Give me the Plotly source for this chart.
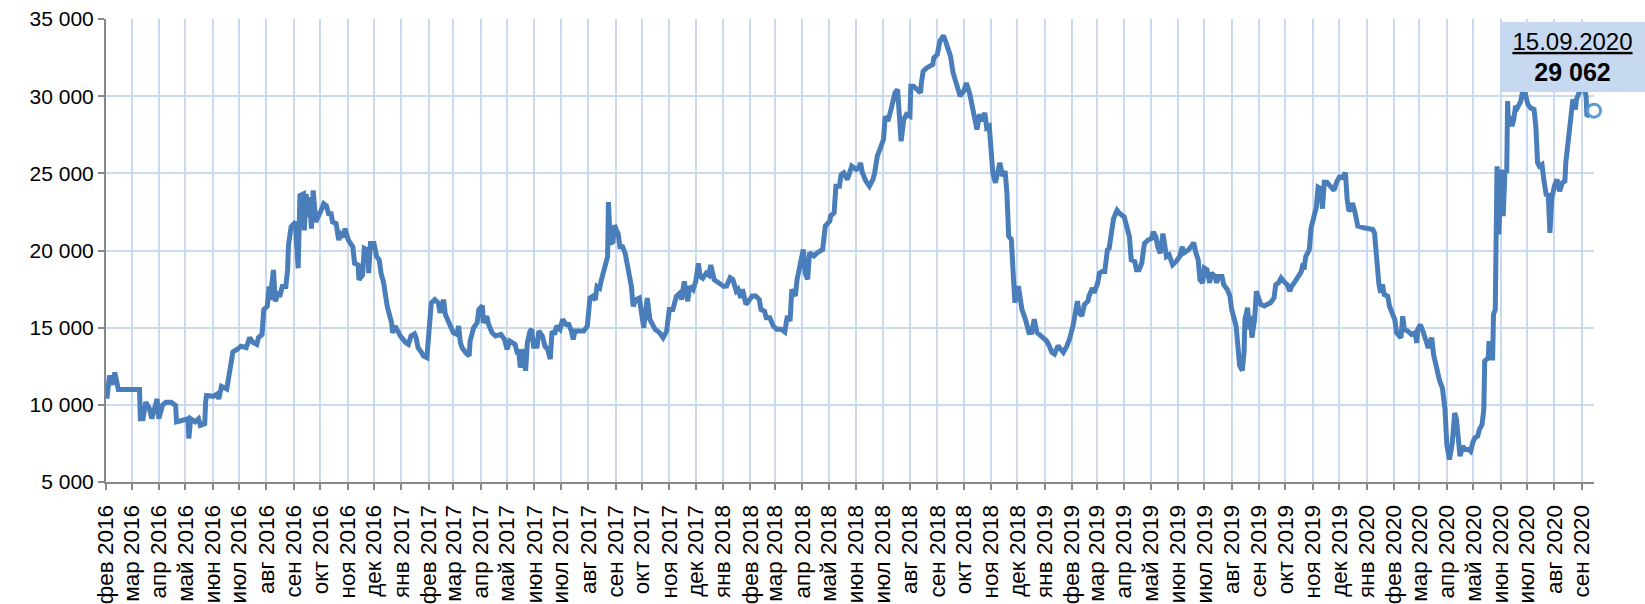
import plotly.graph_objects as go

# Daily price series (trading dates and values)
dates = [
    "2016-02-02", "2016-02-05", "2016-02-08", "2016-02-11", "2016-02-15", "2016-03-10", "2016-03-11", "2016-03-14",
    "2016-03-17", "2016-03-21", "2016-03-24", "2016-03-30", "2016-04-01", "2016-04-05", "2016-04-09", "2016-04-15",
    "2016-04-20", "2016-04-21", "2016-04-28", "2016-05-04", "2016-05-05", "2016-05-07", "2016-05-12", "2016-05-16",
    "2016-05-18", "2016-05-23", "2016-05-24", "2016-05-25", "2016-06-02", "2016-06-06", "2016-06-08", "2016-06-11",
    "2016-06-17", "2016-06-19", "2016-06-20", "2016-06-24", "2016-06-29", "2016-07-03", "2016-07-09", "2016-07-13",
    "2016-07-17", "2016-07-21", "2016-07-23", "2016-07-27", "2016-07-29", "2016-08-02", "2016-08-04", "2016-08-05",
    "2016-08-09", "2016-08-11", "2016-08-15", "2016-08-16", "2016-08-19", "2016-08-23", "2016-08-25", "2016-08-26",
    "2016-08-29", "2016-09-03", "2016-09-04", "2016-09-06", "2016-09-08", "2016-09-12", "2016-09-13", "2016-09-15",
    "2016-09-17", "2016-09-19", "2016-09-21", "2016-09-23", "2016-09-26", "2016-09-28", "2016-10-02", "2016-10-05",
    "2016-10-08", "2016-10-11", "2016-10-13", "2016-10-15", "2016-10-19", "2016-10-22", "2016-10-24", "2016-10-28",
    "2016-10-29", "2016-11-02", "2016-11-07", "2016-11-09", "2016-11-13", "2016-11-14", "2016-11-18", "2016-11-20",
    "2016-11-24", "2016-11-25", "2016-11-27", "2016-12-01", "2016-12-04", "2016-12-07", "2016-12-09", "2016-12-12",
    "2016-12-16", "2016-12-21", "2016-12-22", "2016-12-25", "2016-12-31",
    "2017-01-06", "2017-01-09", "2017-01-12", "2017-01-16", "2017-01-18", "2017-01-20", "2017-01-24", "2017-01-26",
    "2017-01-30", "2017-02-01", "2017-02-04", "2017-02-08", "2017-02-12", "2017-02-14", "2017-02-18", "2017-02-20",
    "2017-02-24", "2017-03-01", "2017-03-05", "2017-03-07", "2017-03-09", "2017-03-11", "2017-03-15", "2017-03-19",
    "2017-03-20", "2017-03-24", "2017-03-28", "2017-03-30", "2017-04-03", "2017-04-04", "2017-04-08", "2017-04-10",
    "2017-04-14", "2017-04-18", "2017-04-24", "2017-04-28", "2017-05-01", "2017-05-04", "2017-05-07", "2017-05-10",
    "2017-05-13", "2017-05-14", "2017-05-16", "2017-05-20", "2017-05-22", "2017-05-24", "2017-05-27", "2017-05-29",
    "2017-05-31", "2017-06-04", "2017-06-06", "2017-06-10", "2017-06-13", "2017-06-16", "2017-06-19", "2017-06-21",
    "2017-06-24", "2017-06-26", "2017-06-30", "2017-07-03", "2017-07-07", "2017-07-10", "2017-07-13", "2017-07-15",
    "2017-07-17", "2017-07-21", "2017-07-27", "2017-07-31", "2017-08-03", "2017-08-06", "2017-08-09", "2017-08-11",
    "2017-08-14", "2017-08-16", "2017-08-20", "2017-08-23", "2017-08-24", "2017-08-26", "2017-08-29", "2017-08-31",
    "2017-09-02", "2017-09-04", "2017-09-06", "2017-09-09", "2017-09-12", "2017-09-15", "2017-09-19", "2017-09-21",
    "2017-09-24", "2017-09-28", "2017-10-03", "2017-10-07", "2017-10-10", "2017-10-16", "2017-10-21", "2017-10-25",
    "2017-10-29", "2017-11-01", "2017-11-05", "2017-11-09", "2017-11-13", "2017-11-15", "2017-11-18", "2017-11-22",
    "2017-11-24", "2017-11-28", "2017-12-01", "2017-12-04", "2017-12-06", "2017-12-09", "2017-12-13", "2017-12-16",
    "2017-12-18", "2017-12-22", "2017-12-27",
    "2018-01-02", "2018-01-05", "2018-01-09", "2018-01-12", "2018-01-16", "2018-01-18", "2018-01-21", "2018-01-23",
    "2018-01-27", "2018-01-30", "2018-02-03", "2018-02-07", "2018-02-11", "2018-02-13", "2018-02-17", "2018-02-19",
    "2018-02-23", "2018-02-27", "2018-03-03", "2018-03-08", "2018-03-12", "2018-03-15", "2018-03-18", "2018-03-20",
    "2018-03-24", "2018-03-26", "2018-03-30", "2018-04-02", "2018-04-04", "2018-04-07", "2018-04-09", "2018-04-14",
    "2018-04-18", "2018-04-24", "2018-04-27", "2018-05-02", "2018-05-03", "2018-05-07", "2018-05-09", "2018-05-13",
    "2018-05-15", "2018-05-18", "2018-05-22", "2018-05-24", "2018-05-27", "2018-06-01", "2018-06-04", "2018-06-06",
    "2018-06-08", "2018-06-12", "2018-06-16", "2018-06-20", "2018-06-22", "2018-06-25", "2018-06-29", "2018-07-02",
    "2018-07-04", "2018-07-07", "2018-07-11", "2018-07-15", "2018-07-18", "2018-07-20", "2018-07-22", "2018-07-25",
    "2018-07-28", "2018-08-01", "2018-08-02", "2018-08-05", "2018-08-09", "2018-08-13", "2018-08-14", "2018-08-16",
    "2018-08-20", "2018-08-24", "2018-08-27", "2018-08-28", "2018-09-01", "2018-09-04", "2018-09-06", "2018-09-08",
    "2018-09-11", "2018-09-16", "2018-09-19", "2018-09-24", "2018-09-27", "2018-10-01", "2018-10-04", "2018-10-08",
    "2018-10-10", "2018-10-13", "2018-10-16", "2018-10-19", "2018-10-22", "2018-10-25", "2018-10-27", "2018-10-30",
    "2018-11-01", "2018-11-03", "2018-11-06", "2018-11-08", "2018-11-11", "2018-11-14", "2018-11-17", "2018-11-19",
    "2018-11-21", "2018-11-24", "2018-11-26", "2018-11-28", "2018-12-02", "2018-12-06", "2018-12-10", "2018-12-14",
    "2018-12-17", "2018-12-20", "2018-12-23", "2018-12-28",
    "2019-01-03", "2019-01-06", "2019-01-09", "2019-01-12", "2019-01-16", "2019-01-19", "2019-01-22", "2019-01-26",
    "2019-01-29", "2019-02-02", "2019-02-05", "2019-02-07", "2019-02-09", "2019-02-12", "2019-02-15", "2019-02-19",
    "2019-02-20", "2019-02-24", "2019-02-26", "2019-03-02", "2019-03-04", "2019-03-07", "2019-03-10", "2019-03-13",
    "2019-03-15", "2019-03-17", "2019-03-20", "2019-03-24", "2019-03-27", "2019-04-01", "2019-04-04", "2019-04-07",
    "2019-04-09", "2019-04-13", "2019-04-15", "2019-04-18", "2019-04-21", "2019-04-24", "2019-04-28", "2019-05-02",
    "2019-05-04", "2019-05-07", "2019-05-09", "2019-05-12", "2019-05-15", "2019-05-17", "2019-05-19", "2019-05-22",
    "2019-05-24", "2019-05-26", "2019-05-30", "2019-06-03", "2019-06-06", "2019-06-07", "2019-06-10", "2019-06-13",
    "2019-06-16", "2019-06-19", "2019-06-21", "2019-06-24", "2019-06-26", "2019-06-29", "2019-07-01", "2019-07-04",
    "2019-07-07", "2019-07-09", "2019-07-13", "2019-07-15", "2019-07-17", "2019-07-21", "2019-07-23", "2019-07-27",
    "2019-07-30", "2019-08-01", "2019-08-04", "2019-08-06", "2019-08-08", "2019-08-10", "2019-08-13", "2019-08-15",
    "2019-08-16", "2019-08-19", "2019-08-21", "2019-08-22", "2019-08-24", "2019-08-27", "2019-08-29", "2019-09-03",
    "2019-09-07", "2019-09-10", "2019-09-14", "2019-09-18", "2019-09-20", "2019-09-23", "2019-09-26", "2019-09-29",
    "2019-10-03", "2019-10-06", "2019-10-08", "2019-10-12", "2019-10-15", "2019-10-19", "2019-10-21", "2019-10-22",
    "2019-10-24", "2019-10-28", "2019-10-30", "2019-11-03", "2019-11-05", "2019-11-07", "2019-11-10", "2019-11-12",
    "2019-11-14", "2019-11-17", "2019-11-21", "2019-11-25", "2019-11-28", "2019-12-02", "2019-12-04", "2019-12-06",
    "2019-12-08", "2019-12-10", "2019-12-12", "2019-12-15", "2019-12-16", "2019-12-19", "2019-12-22", "2019-12-29",
    "2020-01-08", "2020-01-10", "2020-01-12", "2020-01-14", "2020-01-15", "2020-01-17", "2020-01-19", "2020-01-21",
    "2020-01-25", "2020-01-27", "2020-01-30", "2020-02-02", "2020-02-04", "2020-02-07", "2020-02-09", "2020-02-11",
    "2020-02-13", "2020-02-17", "2020-02-21", "2020-02-25", "2020-02-27", "2020-02-28", "2020-03-02", "2020-03-05",
    "2020-03-08", "2020-03-11", "2020-03-13", "2020-03-15", "2020-03-17", "2020-03-20", "2020-03-24", "2020-03-27",
    "2020-03-30", "2020-04-01", "2020-04-04", "2020-04-07", "2020-04-09", "2020-04-10", "2020-04-12", "2020-04-14",
    "2020-04-16", "2020-04-19", "2020-04-22", "2020-04-26", "2020-04-28", "2020-05-01", "2020-05-03", "2020-05-06",
    "2020-05-08", "2020-05-11", "2020-05-13", "2020-05-14", "2020-05-18", "2020-05-19", "2020-05-21", "2020-05-23",
    "2020-05-24", "2020-05-26", "2020-05-27", "2020-05-28", "2020-05-30", "2020-06-02", "2020-06-04", "2020-06-06",
    "2020-06-08", "2020-06-09", "2020-06-10", "2020-06-12", "2020-06-14", "2020-06-16", "2020-06-18", "2020-06-20",
    "2020-06-24", "2020-06-27", "2020-07-02", "2020-07-05", "2020-07-09", "2020-07-11", "2020-07-13", "2020-07-15",
    "2020-07-18", "2020-07-20", "2020-07-23", "2020-07-25", "2020-07-27", "2020-07-29", "2020-08-01", "2020-08-04",
    "2020-08-05", "2020-08-07", "2020-08-10", "2020-08-13", "2020-08-14", "2020-08-16", "2020-08-18", "2020-08-20",
    "2020-08-22", "2020-08-24", "2020-08-25", "2020-08-26", "2020-08-29", "2020-09-01", "2020-09-04", "2020-09-06",
    "2020-09-07", "2020-09-09", "2020-09-15",
]

prices = [
    10400, 11900, 11300, 12100, 11000, 11000, 9100, 9100,
    10170, 9800, 9100, 10380, 9100, 9960, 10170, 10170,
    9960, 8900, 9000, 9100, 7820, 9100, 8900, 9100,
    8670, 8780, 10170, 10600, 10550, 10700, 10380, 11200,
    11030, 11670, 12420, 13430, 13600, 13800, 13700, 14350,
    14030, 13920, 14350, 14560, 16170, 16390, 17670, 16800,
    18740, 16700, 17350, 17000, 17670, 17670, 18740, 20350,
    21530, 21850, 20600, 18850, 23560, 23670, 21300, 23670,
    22170, 23450, 21420, 23890, 21850, 22170, 22600, 23030,
    22900, 22280, 22500, 21850, 21750, 20670, 21100, 20900,
    21420, 20670, 20240, 19170, 19060, 18100, 18400, 20140,
    20030, 18530, 20460, 20460, 19600, 19380, 18530, 17890,
    16390, 15310, 14670, 15100, 14460,
    14030, 13920, 14460, 14600, 14300, 13700, 13390, 13170,
    13060, 14890, 16600, 16810, 16600, 15960, 16810, 15850,
    15310, 14670, 14560, 15100, 14030, 13700, 13390, 13170,
    14130, 14990, 15310, 16170, 16430, 15310, 15740, 15200,
    14670, 14460, 14560, 14240, 13600, 14130, 14030, 13920,
    13280, 13600, 12420, 13600, 12210, 14030, 14780, 14890,
    13800, 13800, 14780, 14460, 13800, 13600, 12960, 14780,
    14560, 15100, 14890, 15530, 15200, 15200, 14780, 14240,
    14780, 14780, 14780, 15100, 16920, 17030, 16800, 17670,
    17560, 18100, 18960, 19600, 23140, 20460, 20570, 21640,
    21320, 21100, 20240, 20240, 19810, 18740, 17670, 16390,
    16810, 16920, 14990, 16920, 15530, 14890, 14670, 14350,
    14780, 16170, 16170, 17030, 17240, 16810, 18000, 16710,
    17670, 17460, 18000, 19170, 18310, 18200, 18530, 18400,
    19060, 18100, 17890,
    17670, 17700, 18240, 18130, 17370, 17480, 16940, 17480,
    16510, 16720, 17050, 17050, 16830, 16180, 16070, 15650,
    15650, 15110, 14890, 14890, 14720, 15760, 15430, 17480,
    17050, 18130, 19210, 20070, 18560, 18130, 19860, 19640,
    19860, 20070, 21580, 21910, 22230, 22450, 24170, 24170,
    24930, 25040, 24600, 25040, 25470, 25250, 25360, 25680,
    25040, 24500, 24170, 24600, 25040, 26110, 26870, 27190,
    28700, 28380, 29240, 30210, 30430, 28490, 27080, 28490,
    28810, 28700, 30650, 30650, 30430, 30220, 30860, 31620,
    31830, 31940, 32050, 32480, 32700, 33560, 33780, 33930,
    33450, 32590, 31500, 30540, 30000, 30320, 30860, 30110,
    29570, 28490, 27840, 28810, 28380, 28920, 27950, 28060,
    26550, 25040, 24390, 25040, 25680, 24820, 25140, 23740,
    20930, 20710, 18560, 16620, 17700, 16180, 15540, 14680,
    14690, 15540, 14690, 14470,
    14150, 13830, 13400, 13290, 13830, 13600, 13400, 13800,
    14260, 15110, 16400, 16720, 15970, 15760, 16500, 16720,
    17040, 17570, 17250, 17900, 18540, 18640, 18640, 20040,
    20150, 21100, 22070, 22600, 22390, 22180, 21530, 20890,
    19390, 19290, 18750, 18750, 19180, 20460, 20680, 20780,
    21210, 20890, 20250, 19820, 21100, 20350, 19610, 19720,
    19290, 19070, 19290, 19610, 20250, 19820, 19930, 20040,
    20250, 20510, 19930, 19390, 18110, 17900, 18860, 18750,
    17900, 18540, 18320, 17900, 18320, 18320, 17790, 17470,
    17040, 16180, 15540, 15110, 13830, 12550, 12220, 13400,
    15540, 16290, 14900, 15760, 14360, 15540, 17360, 16500,
    16400, 16500, 16610, 16930, 17790, 17900, 18220, 18000,
    17790, 17360, 17680, 18000, 18320, 18640, 19180, 18750,
    19610, 20040, 21430, 22180, 22820, 24100, 24000, 22710,
    24420, 24420, 24100, 23890, 24420, 24850, 24640, 24850,
    25040, 23300, 22550, 22760, 23090, 22440, 21580, 21470,
    21360, 21140, 19850, 18120, 17800, 17260, 17800, 17150,
    17040, 16390, 15960, 15530, 14670, 14450, 14340, 15740,
    14880, 14770, 14560, 14670, 14010, 14880, 15200, 14770,
    14230, 13690, 14120, 14340, 13260, 12500, 11530, 11100,
    9700, 7430, 6460, 7430, 9260, 9480, 9050, 7750,
    6670, 7320, 7100, 7100, 7000, 7640, 7860, 7970,
    8400, 8720, 9700, 12830, 13040, 14120, 13040, 13040,
    15850, 16180, 21140, 25460, 21040, 25250, 22220, 25140,
    25040, 29680, 28060, 28700, 28060, 28490, 29350, 29240,
    29680, 30650, 29460, 29240, 29140, 28060, 25680, 25460,
    25570, 24600, 23520, 23740, 21140, 23300, 24170, 24600,
    24380, 23840, 24380, 24490, 25680, 26760, 28060, 29240,
    29780, 29460, 29140, 29780, 30220, 30650, 30540, 30000,
    28700, 28810, 29062,
]

month_abbr = ["янв", "фев", "мар", "апр", "май", "июн", "июл", "авг", "сен", "окт", "ноя", "дек"]
y_ticks = [5000, 10000, 15000, 20000, 25000, 30000, 35000]
x_start, x_end = "2016-02-01", "2020-09-15"

# Monthly ticks from February 2016 to September 2020
tick_dates, tick_text = [], []
yr, mo = 2016, 2
while (yr, mo) <= (2020, 9):
    tick_dates.append(f"{yr}-{mo:02d}-01")
    tick_text.append(f"{month_abbr[mo - 1]} {yr}")
    mo += 1
    if mo > 12:
        mo, yr = 1, yr + 1


def fmt_num(v):
    return f"{v:,}".replace(",", " ")


y_tick_text = [fmt_num(v) for v in y_ticks]

LINE_BLUE = "#4a7ebb"
GRID = "#c9daf0"
AXIS_GREY = "#898989"
FONT = "Liberation Sans, Arial, sans-serif"

fig = go.Figure()
fig.add_trace(go.Scatter(
    x=dates, y=prices, mode="lines",
    line=dict(color=LINE_BLUE, width=5),
    showlegend=False, hoverinfo="x+y",
))
# Highlighted last observation
fig.add_trace(go.Scatter(
    x=[dates[-1]], y=[prices[-1]], mode="markers",
    marker=dict(size=13, color="white", line=dict(color="#5b9bd5", width=3)),
    showlegend=False, cliponaxis=False,
))

last_y, last_m, last_d = dates[-1].split("-")
fig.add_annotation(
    xref="paper", yref="paper", x=0.9368, y=0.994,
    xanchor="left", yanchor="top",
    text=(f"<u>{last_d}.{last_m}.{last_y}</u><br>"
          f"<b><span style='font-size:25px'>{fmt_num(prices[-1])}</span></b>"),
    showarrow=False, align="center",
    font=dict(family=FONT, size=24, color="black"),
    bgcolor="#c6d9f1", borderwidth=0, borderpad=0,
    width=145, height=70,
)

fig.update_layout(
    width=1645, height=604,
    margin=dict(l=106, r=51, t=19, b=122, autoexpand=False),
    paper_bgcolor="white", plot_bgcolor="white",
    font=dict(family=FONT, color="black"),
    xaxis=dict(
        type="date", range=[x_start, x_end], automargin=False,
        tickmode="array", tickvals=tick_dates, ticktext=tick_text,
        tickangle=-90, tickfont=dict(family=FONT, size=22.5, color="black"),
        ticklabelstandoff=6,
        ticks="outside", ticklen=6, tickwidth=2, tickcolor=AXIS_GREY,
        showline=True, linecolor=AXIS_GREY, linewidth=2,
        showgrid=True, gridcolor=GRID, gridwidth=2, zeroline=False,
    ),
    yaxis=dict(
        range=[5000, 35000], automargin=False,
        tickmode="array", tickvals=y_ticks, ticktext=y_tick_text,
        tickfont=dict(family=FONT, size=21, color="black"),
        ticks="outside", ticklen=6, tickwidth=2, tickcolor=AXIS_GREY,
        showline=True, linecolor=AXIS_GREY, linewidth=2,
        showgrid=True, gridcolor=GRID, gridwidth=2, zeroline=False,
    ),
)

fig.write_html("out.html")
